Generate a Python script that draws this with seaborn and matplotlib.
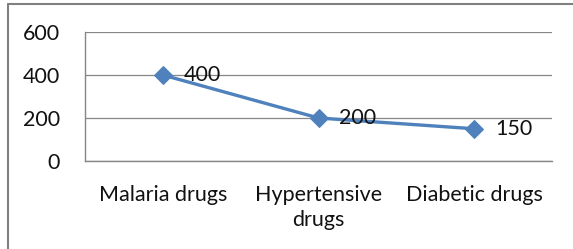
import matplotlib
matplotlib.use("Agg")
import matplotlib.pyplot as plt
from matplotlib.lines import Line2D
from matplotlib.ticker import FixedLocator
import seaborn as sns
import pandas as pd

categories = ["Malaria drugs", "Hypertensive\ndrugs", "Diabetic drugs"]
values = [400, 200, 150]
yticks = [0, 200, 400, 600]

sns.set_style("white")
plt.rcParams['font.family'] = ['Lato', 'DejaVu Sans']

df = pd.DataFrame({"cat": categories, "val": values, "x": range(len(categories))})

W, H = 573, 249
FS = 15.5
fig = plt.figure(figsize=(W / 100, H / 100), dpi=100)
ax = fig.add_axes([85 / W, 1 - 161 / H, (552 - 85) / W, (161 - 32) / H])

sns.lineplot(data=df, x="x", y="val", ax=ax, color="#4F81BD", linewidth=2.4,
             marker="D", markersize=9.5, markeredgecolor="#4F81BD")

for xi, v in zip(df["x"], df["val"]):
    ax.annotate(str(v), (xi, v), xytext=(15, 0), textcoords="offset points",
                ha="left", va="center", fontsize=FS, color="#111111")

ax.set_xlim(-0.5, len(categories) - 0.5)
ax.set_ylim(0, 600)
ax.set_yticks(yticks)
ax.set_yticklabels([str(t) for t in yticks])
ax.set_xticks(list(df["x"]))
ax.set_xticklabels(categories, linespacing=1.35)
ax.xaxis.set_minor_locator(FixedLocator([i - 0.5 for i in range(len(categories) + 1)]))
ax.tick_params(axis="x", which="major", length=0, pad=17, labelsize=FS, labelcolor="#111111")
ax.tick_params(axis="x", which="minor", length=5, width=1, color="#868686", direction="out")
ax.tick_params(axis="y", which="major", length=6, width=1, color="#868686", direction="out",
               labelsize=FS, labelcolor="#111111", pad=12)
ax.set_xlabel("")
ax.set_ylabel("")
ax.grid(axis="y", color="#868686", linewidth=0.9)
ax.set_axisbelow(True)
for s in ["top", "right"]:
    ax.spines[s].set_visible(False)
for s in ["left", "bottom"]:
    ax.spines[s].set_color("#868686")
    ax.spines[s].set_linewidth(1)

fig.add_artist(Line2D([8 / W, 1], [1 - 4 / H, 1 - 4 / H], color="#808080", linewidth=1.5,
                      transform=fig.transFigure))
fig.add_artist(Line2D([8 / W, 8 / W], [0, 1 - 4 / H], color="#808080", linewidth=1.5,
                      transform=fig.transFigure))

fig.savefig("out.png", dpi=100)
